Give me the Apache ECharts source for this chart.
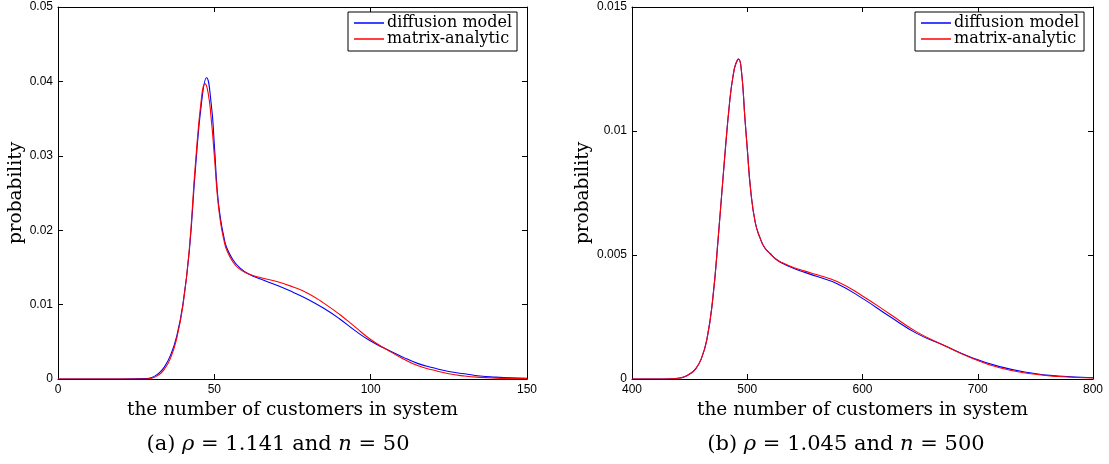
<!DOCTYPE html>
<html>
<head>
<meta charset="utf-8">
<script src="https://cdn.jsdelivr.net/npm/echarts@6/dist/echarts.min.js"></script>
<style>
html,body{margin:0;padding:0;background:#fff;}
#chart{width:1109px;height:464px;}
</style>
</head>
<body>
<div id="chart"></div>
<script>
// ---- Data ----
const seriesNames = ['diffusion model', 'matrix-analytic'];

// Panel (a): rho = 1.141, n = 50
const xA_blue = [0,10,20,28,30,32,34,36,38,40,42,44,46,47.5,49,50,51,52,53,54,56,58,61,65,70,75,80,85,90,95,100,105,110,115,120,125,130,135,140,145,150];
const yA_blue = [0,0,0,0.00005,0.0002,0.0007,0.0016,0.0032,0.0058,0.0102,0.0172,0.0285,0.0375,0.0405,0.0370,0.0315,0.0250,0.0215,0.0192,0.0176,0.0160,0.0150,0.0141,0.0134,0.0126,0.0117,0.0107,0.0095,0.0081,0.0065,0.0051,0.0040,0.0030,0.0021,0.0015,0.0010,0.0007,0.0004,0.00025,0.00015,0.0001];
const xA_red = [0,10,20,28,30,32,34,36,38,40,42,44,46,47,48,49,50,51,52,53,54,56,58,61,65,70,75,80,85,90,95,100,105,110,115,120,125,130,135,140,145,150];
const yA_red = [0,0,0,0,0.0001,0.0005,0.0013,0.0028,0.0055,0.0100,0.0175,0.0292,0.0382,0.0397,0.0385,0.0350,0.0300,0.0245,0.0210,0.0188,0.0173,0.0157,0.0148,0.0141,0.0136,0.0131,0.0124,0.0115,0.0102,0.0087,0.0070,0.0053,0.0040,0.0028,0.0018,0.0012,0.0007,0.0004,0.00022,0.00012,0.00007,0.00005];

// Panel (b): rho = 1.045, n = 500
const xB = [400,420,435,440,445,450,455,460,465,470,475,480,485,488,490,492.5,495,498,500,503,507,511,515,520,525,530,540,550,560,578,600,624,647,670,693,719,748,770,800];
const yB_blue = [0,0,0.00001,0.00003,0.00008,0.0002,0.0004,0.0008,0.0016,0.0032,0.0058,0.0087,0.0113,0.0123,0.0127,0.0129,0.0124,0.0105,0.0093,0.0076,0.0063,0.0057,0.0053,0.00505,0.00483,0.00468,0.00447,0.0043,0.00414,0.00384,0.00325,0.00251,0.00184,0.00137,0.0009,0.0005,0.00023,0.00012,0.00005];
const yB_red = [0,0,0.00001,0.00003,0.00008,0.0002,0.0004,0.0008,0.0016,0.0032,0.0058,0.0087,0.0113,0.0123,0.0127,0.0129,0.0124,0.0105,0.0093,0.0076,0.0063,0.0057,0.0053,0.00505,0.00483,0.0047,0.0045,0.00435,0.00421,0.00393,0.00335,0.00261,0.0019,0.00137,0.00088,0.00045,0.0002,0.0001,0.00004];

// Axis settings
const xA_range = [0, 150, 50];
const yA_range = [0, 0.05, 0.01];
const xB_range = [400, 800, 100];
const yB_range = [0, 0.015, 0.005];

const xTitle = 'the number of customers in system';
const yTitle = 'probability';
const captionA = '(a) {i|ρ} = 1.141 and {i|n} = 50';
const captionB = '(b) {i|ρ} = 1.045 and {i|n} = 500';

// ---- Build chart ----
const pairs = (xs, ys) => xs.map((x, i) => [x, ys[i]]);
const SERIF = '"DejaVu Serif", serif';
const SANS = '"Liberation Sans", Arial, sans-serif';

function xAxes(grid, r, nameGap) {
  const base = {
    gridIndex: grid, type: 'value', min: r[0], max: r[1], interval: r[2],
    axisLine: { show: true, onZero: false, lineStyle: { color: '#000', width: 1 } },
    axisTick: { show: true, inside: true, length: 5, lineStyle: { color: '#000' } },
    splitLine: { show: false }
  };
  return [
    Object.assign({}, base, {
      position: 'bottom',
      axisLabel: { show: true, color: '#000', fontFamily: SANS, fontSize: 12, margin: 5 },
      name: xTitle, nameLocation: 'middle', nameGap: nameGap,
      nameTextStyle: { fontFamily: SERIF, fontSize: 18.5, color: '#000' }
    }),
    Object.assign({}, base, { position: 'top', axisLabel: { show: false } })
  ];
}
function yAxes(grid, r, nameGap) {
  const base = {
    gridIndex: grid, type: 'value', min: r[0], max: r[1], interval: r[2],
    axisLine: { show: true, onZero: false, lineStyle: { color: '#000', width: 1 } },
    axisTick: { show: true, inside: true, length: 5, lineStyle: { color: '#000' } },
    splitLine: { show: false }
  };
  return [
    Object.assign({}, base, {
      position: 'left',
      axisLabel: { show: true, color: '#000', fontFamily: SANS, fontSize: 12, margin: 5 },
      name: yTitle, nameLocation: 'middle', nameGap: nameGap, nameRotate: 90,
      nameTextStyle: { fontFamily: SERIF, fontSize: 18.5, color: '#000' }
    }),
    Object.assign({}, base, { position: 'right', axisLabel: { show: false } })
  ];
}

function lineSeries(name, color, xi, yi, data) {
  return {
    name: name, type: 'line', xAxisIndex: xi, yAxisIndex: yi,
    data: data, showSymbol: false, symbol: 'none',
    smooth: 0.5,
    lineStyle: { color: color, width: 1.1 }, itemStyle: { color: color },
    animation: false
  };
}

function legend(left) {
  return {
    left: left, top: 12, orient: 'vertical', icon: 'rect',
    itemWidth: 30, itemHeight: 1.5, itemGap: 0,
    padding: [3, 5, 4, 6],
    borderColor: '#000', borderWidth: 1, backgroundColor: '#fff',
    textStyle: { fontFamily: SERIF, fontSize: 16, color: '#000', lineHeight: 15, padding: [0, 0, 0, -2] },
    data: seriesNames
  };
}

const captionRich = { i: { fontFamily: SERIF, fontSize: 21, fontStyle: 'italic', fill: '#000', color: '#000' } };

const option = {
  backgroundColor: '#fff',
  animation: false,
  grid: [
    { left: 58, top: 7, width: 469, height: 372, show: false },
    { left: 632, top: 7, width: 461, height: 372, show: false }
  ],
  xAxis: [].concat(xAxes(0, xA_range, 17), xAxes(1, xB_range, 17)),
  yAxis: [].concat(yAxes(0, yA_range, 31), yAxes(1, yB_range, 38)),
  legend: [legend(348), legend(915)],
  series: [
    lineSeries(seriesNames[0], '#0000ff', 0, 0, pairs(xA_blue, yA_blue)),
    lineSeries(seriesNames[1], '#ff0000', 0, 0, pairs(xA_red, yA_red)),
    lineSeries(seriesNames[0], '#0000ff', 2, 2, pairs(xB, yB_blue)),
    lineSeries(seriesNames[1], '#ff0000', 2, 2, pairs(xB, yB_red))
  ],
  graphic: [
    { type: 'text', x: 278, y: 445, style: { text: captionA, font: '21px ' + SERIF, fill: '#000', align: 'center', verticalAlign: 'middle', rich: captionRich } },
    { type: 'text', x: 846, y: 445, style: { text: captionB, font: '21px ' + SERIF, fill: '#000', align: 'center', verticalAlign: 'middle', rich: captionRich } }
  ]
};

const chart = echarts.init(document.getElementById('chart'), null, { renderer: 'canvas' });
chart.setOption(option);
</script>
</body>
</html>
